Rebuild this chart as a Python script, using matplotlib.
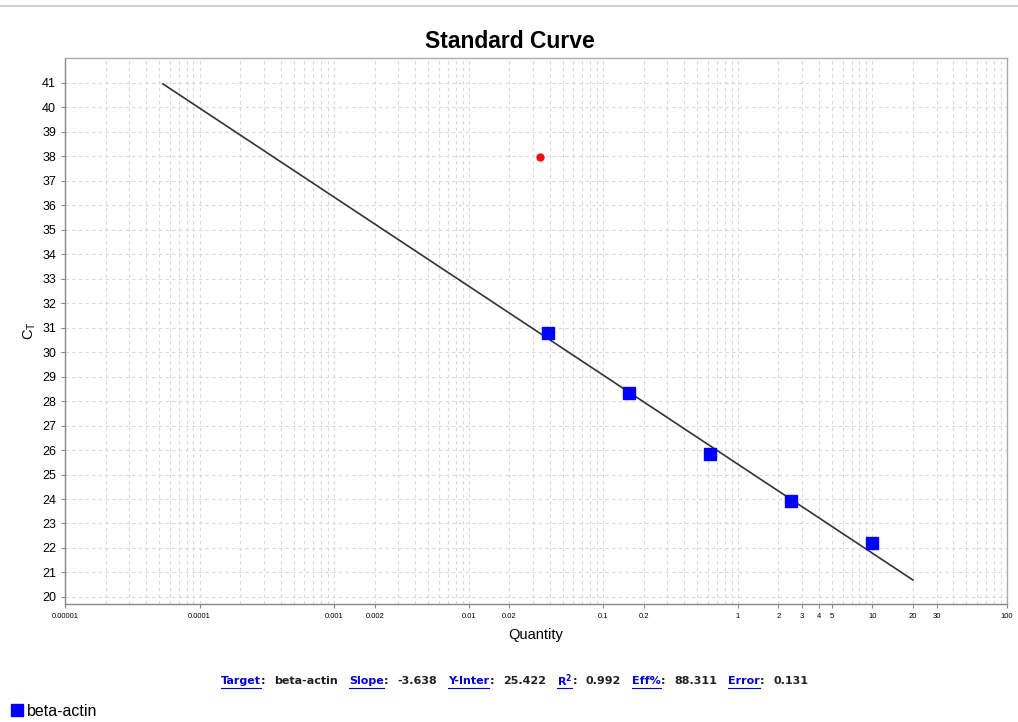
import numpy as np
import matplotlib
matplotlib.use("Agg")
import matplotlib.pyplot as plt
from matplotlib.ticker import FixedLocator, LogLocator, NullFormatter
from matplotlib.lines import Line2D

# standard points (quantity, Ct)
std_qty = [0.039, 0.156, 0.625, 2.5, 10]
std_ct = [30.8, 28.35, 25.82, 23.92, 22.2]
# excluded / outlier point
out_qty = [0.034]
out_ct = [37.97]
# fitted line end points
fit_qty = [5.35e-5, 20]
fit_ct = [40.96, 20.69]

xtick_vals = [0.00001, 0.0001, 0.001, 0.002, 0.01, 0.02, 0.1, 0.2, 1, 2, 3, 4, 5, 10, 20, 30, 100]
xtick_labels = ["0.00001", "0.0001", "0.001", "0.002", "0.01", "0.02", "0.1", "0.2",
                "1", "2", "3", "4", "5", "10", "20", "30", "100"]
yticks = list(range(20, 42))

stats = [("Target", "beta-actin"), ("Slope", "-3.638"), ("Y-Inter", "25.422"),
         ("R$^\\mathbf{2}$", "0.992"), ("Eff%", "88.311"), ("Error", "0.131")]

plt.rcParams["font.family"] = ["Liberation Sans", "DejaVu Sans"]

W, H = 1018, 722
fig = plt.figure(figsize=(W / 100, H / 100), dpi=100)
ax = fig.add_axes([65 / W, 1 - 604 / H, (1007 - 65) / W, (604 - 58) / H])

ax.set_xscale("log")
ax.set_xlim(1e-5, 100)
ax.set_ylim(19.71, 42.02)

ax.plot(fit_qty, fit_ct, color="#333333", lw=1.2, zorder=3)
ax.plot(std_qty, std_ct, "s", color="#0000ff", ms=9, zorder=4)
ax.plot(out_qty, out_ct, "o", color="#ee1111", ms=5, zorder=4)

ax.xaxis.set_major_locator(FixedLocator(xtick_vals))
ax.set_xticklabels(xtick_labels, fontsize=5.5)
ax.xaxis.set_minor_locator(LogLocator(base=10, subs=np.arange(2, 10), numticks=20))
ax.xaxis.set_minor_formatter(NullFormatter())
ax.tick_params(axis="x", which="minor", length=0)
ax.set_yticks(yticks)
ax.tick_params(axis="y", labelsize=9)
ax.tick_params(which="major", length=3, color="#888888", width=0.8)

ax.grid(True, which="both", axis="x", color="#d8d8d8", ls=(0, (3, 3)), lw=0.8)
ax.grid(True, which="major", axis="y", color="#d8d8d8", ls=(0, (3, 3)), lw=0.8)
for s in ax.spines.values():
    s.set_color("#aaaaaa")
    s.set_linewidth(1)
ax.spines["left"].set_color("#888888")
ax.spines["bottom"].set_color("#888888")

ax.set_xlabel("Quantity", fontsize=10.5, labelpad=6)
ax.set_ylabel("C$_\\mathregular{T}$", fontsize=10.5, labelpad=3)
fig.text(510 / W, 1 - 41 / H, "Standard Curve", ha="center", va="center",
         fontsize=16.5, fontweight="bold")

# top border line
fig.add_artist(Line2D([0, 1], [1 - 6 / H, 1 - 6 / H], color="#d0d0d0", lw=1.5))

# stats line with underlined labels
fig.canvas.draw()
r = fig.canvas.get_renderer()
x = 221
y = 1 - 681 / H
for lab, val in stats:
    t = fig.text(x / W, y, lab, color="#0000dd", fontsize=8, fontweight="bold",
                 va="center", family="DejaVu Sans")
    bb = t.get_window_extent(r)
    fig.add_artist(Line2D([bb.x0 / W, bb.x1 / W], [(H - 688) / H, (H - 688) / H],
                          color="#0000dd", lw=0.8))
    t2 = fig.text(bb.x1 / W, y, ":", color="#222222", fontsize=8, fontweight="bold",
                  va="center", family="DejaVu Sans")
    bb2 = t2.get_window_extent(r)
    t3 = fig.text((bb2.x1 + 9) / W, y, val, color="#222222", fontsize=8, fontweight="bold",
                  va="center", family="DejaVu Sans")
    bb3 = t3.get_window_extent(r)
    x = bb3.x1 + 11

fig.legend(handles=[Line2D([], [], marker="s", color="#0000ff", ls="", ms=9)],
           labels=["beta-actin"], loc="center left", bbox_to_anchor=(9 / W, 1 - 711 / H),
           frameon=False, fontsize=11.5, handletextpad=0.1, handlelength=1,
           borderaxespad=0, borderpad=0)

fig.savefig("out.png", dpi=100)
